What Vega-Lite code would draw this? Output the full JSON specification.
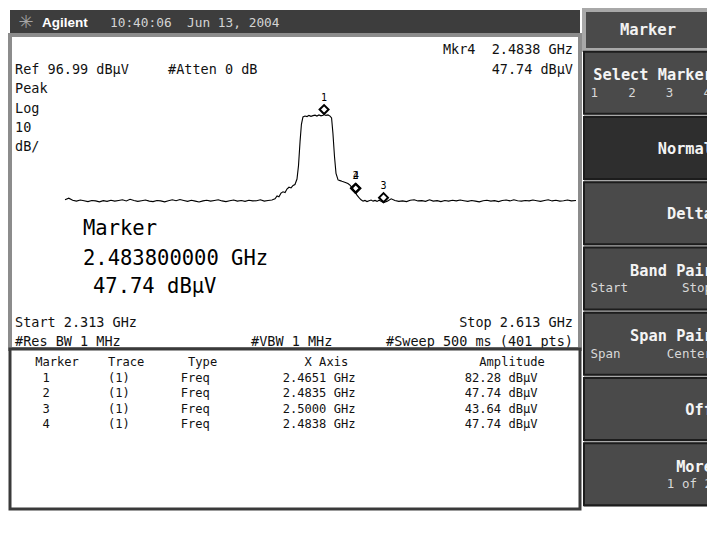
{
"$schema":"https://vega.github.io/schema/vega-lite/v6.json",
"background":"white",
"padding":{"left":8,"top":8,"right":0,"bottom":0},
"spacing":0,
"config":{"view":{"stroke":null},"text":{"font":"DejaVu Sans Mono"}},
"datasets":{
"trace":[
{"freq_ghz":2.3130,"level_dbuv":44.9},{"freq_ghz":2.3152,"level_dbuv":45.6},{"freq_ghz":2.3175,"level_dbuv":44.7},{"freq_ghz":2.3197,"level_dbuv":44.3},{"freq_ghz":2.3220,"level_dbuv":44.8},{"freq_ghz":2.3242,"level_dbuv":44.5},{"freq_ghz":2.3265,"level_dbuv":44.1},{"freq_ghz":2.3287,"level_dbuv":44.6},{"freq_ghz":2.3310,"level_dbuv":44.4},{"freq_ghz":2.3332,"level_dbuv":44.0},{"freq_ghz":2.3355,"level_dbuv":44.5},{"freq_ghz":2.3377,"level_dbuv":44.2},{"freq_ghz":2.3400,"level_dbuv":44.7},{"freq_ghz":2.3422,"level_dbuv":44.3},{"freq_ghz":2.3445,"level_dbuv":44.6},{"freq_ghz":2.3467,"level_dbuv":44.9},{"freq_ghz":2.3490,"level_dbuv":44.4},{"freq_ghz":2.3512,"level_dbuv":45.1},{"freq_ghz":2.3535,"level_dbuv":44.6},{"freq_ghz":2.3557,"level_dbuv":44.2},{"freq_ghz":2.3580,"level_dbuv":44.5},{"freq_ghz":2.3602,"level_dbuv":44.8},{"freq_ghz":2.3625,"level_dbuv":44.3},{"freq_ghz":2.3647,"level_dbuv":44.1},{"freq_ghz":2.3670,"level_dbuv":44.6},{"freq_ghz":2.3692,"level_dbuv":44.4},{"freq_ghz":2.3715,"level_dbuv":44.0},{"freq_ghz":2.3737,"level_dbuv":44.5},{"freq_ghz":2.3760,"level_dbuv":44.9},{"freq_ghz":2.3782,"level_dbuv":44.5},{"freq_ghz":2.3805,"level_dbuv":45.0},{"freq_ghz":2.3827,"level_dbuv":44.6},{"freq_ghz":2.3850,"level_dbuv":44.2},{"freq_ghz":2.3872,"level_dbuv":44.7},{"freq_ghz":2.3895,"level_dbuv":44.3},{"freq_ghz":2.3917,"level_dbuv":43.9},{"freq_ghz":2.3940,"level_dbuv":44.4},{"freq_ghz":2.3962,"level_dbuv":44.7},{"freq_ghz":2.3985,"level_dbuv":44.3},{"freq_ghz":2.4007,"level_dbuv":44.6},{"freq_ghz":2.4030,"level_dbuv":44.9},{"freq_ghz":2.4052,"level_dbuv":44.4},{"freq_ghz":2.4075,"level_dbuv":44.1},{"freq_ghz":2.4097,"level_dbuv":44.5},{"freq_ghz":2.4120,"level_dbuv":44.8},{"freq_ghz":2.4142,"level_dbuv":44.3},{"freq_ghz":2.4165,"level_dbuv":44.6},{"freq_ghz":2.4187,"level_dbuv":44.2},{"freq_ghz":2.4210,"level_dbuv":44.7},{"freq_ghz":2.4232,"level_dbuv":44.4},{"freq_ghz":2.4255,"level_dbuv":44.5},{"freq_ghz":2.4277,"level_dbuv":44.9},{"freq_ghz":2.4300,"level_dbuv":44.3},{"freq_ghz":2.4322,"level_dbuv":44.6},{"freq_ghz":2.4345,"level_dbuv":44.8},
{"freq_ghz":2.4363,"level_dbuv":45.3},{"freq_ghz":2.4375,"level_dbuv":46.6},{"freq_ghz":2.4386,"level_dbuv":46.2},{"freq_ghz":2.4398,"level_dbuv":47.8},{"freq_ghz":2.4410,"level_dbuv":48.4},{"freq_ghz":2.4422,"level_dbuv":48.1},{"freq_ghz":2.4433,"level_dbuv":49.6},{"freq_ghz":2.4445,"level_dbuv":50.4},{"freq_ghz":2.4457,"level_dbuv":50.1},{"freq_ghz":2.4469,"level_dbuv":51.2},{"freq_ghz":2.4480,"level_dbuv":51.6},{"freq_ghz":2.4492,"level_dbuv":54.0},{"freq_ghz":2.4501,"level_dbuv":60.0},{"freq_ghz":2.4510,"level_dbuv":70.5},{"freq_ghz":2.4518,"level_dbuv":78.0},{"freq_ghz":2.4527,"level_dbuv":81.2},{"freq_ghz":2.4539,"level_dbuv":81.6},{"freq_ghz":2.4551,"level_dbuv":81.4},{"freq_ghz":2.4562,"level_dbuv":81.9},{"freq_ghz":2.4574,"level_dbuv":81.5},{"freq_ghz":2.4586,"level_dbuv":81.8},{"freq_ghz":2.4598,"level_dbuv":82.0},{"freq_ghz":2.4609,"level_dbuv":81.6},{"freq_ghz":2.4621,"level_dbuv":82.1},{"freq_ghz":2.4633,"level_dbuv":81.7},{"freq_ghz":2.4645,"level_dbuv":82.0},{"freq_ghz":2.4651,"level_dbuv":82.28},{"freq_ghz":2.4662,"level_dbuv":81.9},{"freq_ghz":2.4674,"level_dbuv":82.1},{"freq_ghz":2.4686,"level_dbuv":81.6},{"freq_ghz":2.4695,"level_dbuv":80.8},{"freq_ghz":2.4703,"level_dbuv":74.0},{"freq_ghz":2.4712,"level_dbuv":64.0},{"freq_ghz":2.4721,"level_dbuv":56.5},{"freq_ghz":2.4733,"level_dbuv":53.6},{"freq_ghz":2.4745,"level_dbuv":53.3},{"freq_ghz":2.4756,"level_dbuv":53.0},{"freq_ghz":2.4768,"level_dbuv":52.7},{"freq_ghz":2.4780,"level_dbuv":52.4},{"freq_ghz":2.4791,"level_dbuv":52.0},{"freq_ghz":2.4803,"level_dbuv":51.3},{"freq_ghz":2.4815,"level_dbuv":50.2},{"freq_ghz":2.4827,"level_dbuv":48.8},{"freq_ghz":2.4835,"level_dbuv":47.74},{"freq_ghz":2.4838,"level_dbuv":47.74},{"freq_ghz":2.4844,"level_dbuv":46.9},{"freq_ghz":2.4856,"level_dbuv":45.8},{"freq_ghz":2.4868,"level_dbuv":44.9},{"freq_ghz":2.4880,"level_dbuv":44.3},{"freq_ghz":2.4891,"level_dbuv":44.6},{"freq_ghz":2.4903,"level_dbuv":44.1},{"freq_ghz":2.4915,"level_dbuv":44.5},{"freq_ghz":2.4927,"level_dbuv":44.8},{"freq_ghz":2.4939,"level_dbuv":44.3},{"freq_ghz":2.4950,"level_dbuv":44.6},{"freq_ghz":2.4962,"level_dbuv":44.2},{"freq_ghz":2.4974,"level_dbuv":44.7},{"freq_ghz":2.4986,"level_dbuv":44.2},{"freq_ghz":2.5000,"level_dbuv":43.64},
{"freq_ghz":2.5022,"level_dbuv":44.3},{"freq_ghz":2.5045,"level_dbuv":45.3},{"freq_ghz":2.5067,"level_dbuv":44.6},{"freq_ghz":2.5090,"level_dbuv":44.2},{"freq_ghz":2.5112,"level_dbuv":44.4},{"freq_ghz":2.5135,"level_dbuv":44.1},{"freq_ghz":2.5157,"level_dbuv":44.7},{"freq_ghz":2.5180,"level_dbuv":44.9},{"freq_ghz":2.5202,"level_dbuv":44.4},{"freq_ghz":2.5225,"level_dbuv":44.5},{"freq_ghz":2.5247,"level_dbuv":44.2},{"freq_ghz":2.5270,"level_dbuv":44.9},{"freq_ghz":2.5292,"level_dbuv":44.3},{"freq_ghz":2.5315,"level_dbuv":44.5},{"freq_ghz":2.5337,"level_dbuv":44.1},{"freq_ghz":2.5360,"level_dbuv":44.6},{"freq_ghz":2.5382,"level_dbuv":44.3},{"freq_ghz":2.5405,"level_dbuv":44.7},{"freq_ghz":2.5427,"level_dbuv":44.4},{"freq_ghz":2.5450,"level_dbuv":44.8},{"freq_ghz":2.5472,"level_dbuv":44.5},{"freq_ghz":2.5495,"level_dbuv":44.2},{"freq_ghz":2.5517,"level_dbuv":44.6},{"freq_ghz":2.5540,"level_dbuv":44.3},{"freq_ghz":2.5562,"level_dbuv":44.0},{"freq_ghz":2.5585,"level_dbuv":44.5},{"freq_ghz":2.5607,"level_dbuv":44.7},{"freq_ghz":2.5630,"level_dbuv":44.3},{"freq_ghz":2.5652,"level_dbuv":44.5},{"freq_ghz":2.5675,"level_dbuv":44.1},{"freq_ghz":2.5697,"level_dbuv":44.6},{"freq_ghz":2.5720,"level_dbuv":44.8},{"freq_ghz":2.5742,"level_dbuv":44.4},{"freq_ghz":2.5765,"level_dbuv":44.9},{"freq_ghz":2.5787,"level_dbuv":44.5},{"freq_ghz":2.5810,"level_dbuv":44.3},{"freq_ghz":2.5832,"level_dbuv":44.6},{"freq_ghz":2.5855,"level_dbuv":44.4},{"freq_ghz":2.5877,"level_dbuv":44.8},{"freq_ghz":2.5900,"level_dbuv":44.5},{"freq_ghz":2.5922,"level_dbuv":44.2},{"freq_ghz":2.5945,"level_dbuv":44.6},{"freq_ghz":2.5967,"level_dbuv":44.9},{"freq_ghz":2.5990,"level_dbuv":44.4},{"freq_ghz":2.6012,"level_dbuv":44.7},{"freq_ghz":2.6035,"level_dbuv":44.3},{"freq_ghz":2.6057,"level_dbuv":44.5},{"freq_ghz":2.6080,"level_dbuv":44.8},{"freq_ghz":2.6102,"level_dbuv":44.4},{"freq_ghz":2.6130,"level_dbuv":44.6}
],
"markers":[
{"marker":"1","freq_ghz":2.4651,"level_dbuv":82.28},
{"marker":"2","freq_ghz":2.4835,"level_dbuv":47.74},
{"marker":"3","freq_ghz":2.5000,"level_dbuv":43.64},
{"marker":"4","freq_ghz":2.4838,"level_dbuv":47.74}
],
"grid_freq":[{"freq_ghz":2.313},{"freq_ghz":2.343},{"freq_ghz":2.373},{"freq_ghz":2.403},{"freq_ghz":2.433},{"freq_ghz":2.463},{"freq_ghz":2.493},{"freq_ghz":2.523},{"freq_ghz":2.553},{"freq_ghz":2.583},{"freq_ghz":2.613}],
"grid_level":[{"level_dbuv":-3.01},{"level_dbuv":6.99},{"level_dbuv":16.99},{"level_dbuv":26.99},{"level_dbuv":36.99},{"level_dbuv":46.99},{"level_dbuv":56.99},{"level_dbuv":66.99},{"level_dbuv":76.99},{"level_dbuv":86.99},{"level_dbuv":96.99}],
"status_left":[
{"label":"Ref 96.99 dBµV","freq_ghz":2.283646,"level_dbuv":101.81},
{"label":"#Atten 0 dB","freq_ghz":2.37347,"level_dbuv":101.81},
{"label":"Peak","freq_ghz":2.283646,"level_dbuv":93.48},
{"label":"Log","freq_ghz":2.283646,"level_dbuv":84.71},
{"label":"10","freq_ghz":2.283646,"level_dbuv":76.38},
{"label":"dB/","freq_ghz":2.283646,"level_dbuv":68.04},
{"label":"Start 2.313 GHz","freq_ghz":2.283646,"level_dbuv":-9.15},
{"label":"#Res BW 1 MHz","freq_ghz":2.283646,"level_dbuv":-17.48},
{"label":"#VBW 1 MHz","freq_ghz":2.422198,"level_dbuv":-17.48}
],
"status_right":[
{"label":"Mkr4\u00a0\u00a02.4838 GHz","freq_ghz":2.61124,"level_dbuv":110.59},
{"label":"47.74 dBµV","freq_ghz":2.61124,"level_dbuv":101.81},
{"label":"Stop 2.613 GHz","freq_ghz":2.61124,"level_dbuv":-9.15},
{"label":"#Sweep 500 ms (401 pts)","freq_ghz":2.61124,"level_dbuv":-17.48}
],
"readout":[
{"label":"Marker","freq_ghz":2.323568,"level_dbuv":32.08},
{"label":"2.483800000 GHz","freq_ghz":2.323568,"level_dbuv":18.92},
{"label":"47.74 dBµV","freq_ghz":2.329439,"level_dbuv":6.64}
],
"table_lines":[
{"line":"head","text":"Marker\u00a0\u00a0\u00a0\u00a0Trace\u00a0\u00a0\u00a0\u00a0\u00a0\u00a0Type\u00a0\u00a0\u00a0\u00a0\u00a0\u00a0\u00a0\u00a0\u00a0\u00a0\u00a0\u00a0X\u00a0Axis\u00a0\u00a0\u00a0\u00a0\u00a0\u00a0\u00a0\u00a0\u00a0\u00a0\u00a0\u00a0\u00a0\u00a0\u00a0\u00a0\u00a0\u00a0Amplitude"},
{"line":"1","text":"\u00a0\u00a01\u00a0\u00a0\u00a0\u00a0\u00a0\u00a0\u00a0\u00a0(1)\u00a0\u00a0\u00a0\u00a0\u00a0\u00a0\u00a0Freq\u00a0\u00a0\u00a0\u00a0\u00a0\u00a0\u00a0\u00a0\u00a0\u00a02.4651\u00a0GHz\u00a0\u00a0\u00a0\u00a0\u00a0\u00a0\u00a0\u00a0\u00a0\u00a0\u00a0\u00a0\u00a0\u00a0\u00a082.28\u00a0dBµV"},
{"line":"2","text":"\u00a0\u00a02\u00a0\u00a0\u00a0\u00a0\u00a0\u00a0\u00a0\u00a0(1)\u00a0\u00a0\u00a0\u00a0\u00a0\u00a0\u00a0Freq\u00a0\u00a0\u00a0\u00a0\u00a0\u00a0\u00a0\u00a0\u00a0\u00a02.4835\u00a0GHz\u00a0\u00a0\u00a0\u00a0\u00a0\u00a0\u00a0\u00a0\u00a0\u00a0\u00a0\u00a0\u00a0\u00a0\u00a047.74\u00a0dBµV"},
{"line":"3","text":"\u00a0\u00a03\u00a0\u00a0\u00a0\u00a0\u00a0\u00a0\u00a0\u00a0(1)\u00a0\u00a0\u00a0\u00a0\u00a0\u00a0\u00a0Freq\u00a0\u00a0\u00a0\u00a0\u00a0\u00a0\u00a0\u00a0\u00a0\u00a02.5000\u00a0GHz\u00a0\u00a0\u00a0\u00a0\u00a0\u00a0\u00a0\u00a0\u00a0\u00a0\u00a0\u00a0\u00a0\u00a0\u00a043.64\u00a0dBµV"},
{"line":"4","text":"\u00a0\u00a04\u00a0\u00a0\u00a0\u00a0\u00a0\u00a0\u00a0\u00a0(1)\u00a0\u00a0\u00a0\u00a0\u00a0\u00a0\u00a0Freq\u00a0\u00a0\u00a0\u00a0\u00a0\u00a0\u00a0\u00a0\u00a0\u00a02.4838\u00a0GHz\u00a0\u00a0\u00a0\u00a0\u00a0\u00a0\u00a0\u00a0\u00a0\u00a0\u00a0\u00a0\u00a0\u00a0\u00a047.74\u00a0dBµV"}
],
"softkeys":[
{"key":"select","label":"Select Marker","sub_left":"1\u00a0\u00a0\u00a0\u00a02\u00a0\u00a0\u00a0\u00a03\u00a0\u00a0\u00a0\u00a04","sub_right":"","state":"idle"},
{"key":"normal","label":"Normal","sub_left":"","sub_right":"","state":"active"},
{"key":"delta","label":"Delta","sub_left":"","sub_right":"","state":"idle"},
{"key":"band","label":"Band Pair","sub_left":"Start","sub_right":"Stop","state":"idle"},
{"key":"span","label":"Span Pair","sub_left":"Span","sub_right":"Center","state":"idle"},
{"key":"off","label":"Off","sub_left":"","sub_right":"","state":"idle"},
{"key":"more","label":"More","sub_left":"","sub_right":"1 of 2","state":"idle"}
],
"header":[{"part":"logo","text":"✳"},{"part":"brand","text":"Agilent"},{"part":"clock","text":"10:40:06\u00a0\u00a0Jun 13, 2004"}]
},
"hconcat":[
{"vconcat":[
 {"width":570,"height":25,"view":{"fill":"#3d3d3d","stroke":null},
  "data":{"name":"header"},
  "layer":[
   {"transform":[{"filter":"datum.part==='logo'"}],"mark":{"type":"text","align":"center","dx":-269,"fontSize":18,"font":"DejaVu Sans","color":"#a6a6a6"},"encoding":{"text":{"field":"text"}}},
   {"transform":[{"filter":"datum.part==='brand'"}],"mark":{"type":"text","align":"left","dx":-253,"fontSize":13.5,"font":"Liberation Sans","fontWeight":"bold","color":"#ffffff"},"encoding":{"text":{"field":"text"}}},
   {"transform":[{"filter":"datum.part==='clock'"}],"mark":{"type":"text","align":"left","dx":-185,"fontSize":12.8,"font":"DejaVu Sans Mono","color":"#d4d4d4"},"encoding":{"text":{"field":"text"}}}
  ]},
 {"width":570,"height":314,"view":{"fill":"white","stroke":"#8c8c8c","strokeWidth":4},
  "encoding":{
   "x":{"field":"freq_ghz","type":"quantitative","scale":{"domain":[2.28071,2.615348],"nice":false,"zero":false},"axis":null},
   "y":{"field":"level_dbuv","type":"quantitative","scale":{"domain":[-20.554,117.165],"nice":false,"zero":false},"axis":null}
  },
  "layer":[
   {"data":{"name":"grid_freq"},"mark":{"type":"rule","color":"#a9a9a9","strokeWidth":1},"encoding":{"y":{"datum":-3.01},"y2":{"datum":96.99}}},
   {"data":{"name":"grid_level"},"mark":{"type":"rule","color":"#a9a9a9","strokeWidth":1},"encoding":{"x":{"datum":2.313},"x2":{"datum":2.613}}},
   {"data":{"name":"trace"},"mark":{"type":"line","color":"#000000","strokeWidth":1.1},"encoding":{}},
   {"data":{"name":"markers"},"mark":{"type":"point","shape":"diamond","filled":false,"color":"#000000","strokeWidth":2,"size":80,"yOffset":-5,"opacity":1}},
   {"data":{"name":"markers"},"mark":{"type":"text","fontSize":10,"yOffset":-17,"color":"#000000"},"encoding":{"text":{"field":"marker"}}},
   {"data":{"name":"status_left"},"mark":{"type":"text","align":"left","fontSize":13.5,"color":"#111111"},"encoding":{"text":{"field":"label"}}},
   {"data":{"name":"status_right"},"mark":{"type":"text","align":"right","fontSize":13.5,"color":"#111111"},"encoding":{"text":{"field":"label"}}},
   {"data":{"name":"readout"},"mark":{"type":"text","align":"left","fontSize":20.5,"color":"#000000"},"encoding":{"text":{"field":"label"}}}
  ]},
 {"width":570,"height":160,"view":{"fill":"white","stroke":"#3a3a3a","strokeWidth":3},
  "data":{"name":"table_lines"},
  "mark":{"type":"text","align":"center","dx":-5,"fontSize":12.1,"font":"DejaVu Sans Mono","color":"#111111"},
  "encoding":{
   "y":{"field":"line","type":"ordinal","scale":{"type":"point","domain":["head","1","2","3","4"],"range":[13,75],"padding":0},"axis":null},
   "text":{"field":"text"}
  }}
 ],"spacing":0,"bounds":"flush"},
{"vconcat":[
 {"width":125,"height":40,"view":{"fill":"#4a4a4a","stroke":"#a8a8a8","strokeWidth":4},
  "data":{"values":[{"label":"Marker"}]},
  "mark":{"type":"text","dx":1.5,"fontSize":15.5,"fontWeight":"bold","font":"DejaVu Sans Mono","color":"#f2f2f2"},
  "encoding":{"text":{"field":"label"}}},
 {"width":125,"height":457,"view":{"fill":"#a8a8a8","stroke":null},
  "data":{"name":"softkeys"},
  "encoding":{"y":{"field":"key","type":"nominal","scale":{"type":"band","domain":["select","normal","delta","band","span","off","more"],"paddingInner":0.05,"paddingOuter":0.025},"axis":null}},
  "layer":[
   {"mark":{"type":"rect","stroke":"#1c1c1c","strokeWidth":2},"encoding":{"color":{"field":"state","type":"nominal","scale":{"domain":["idle","active"],"range":["#4a4a4a","#2e2e2e"]},"legend":null}}},
   {"transform":[{"filter":"datum.sub_left !== '' || datum.sub_right !== ''"}],"mark":{"type":"text","align":"right","dx":66.5,"fontSize":15.3,"fontWeight":"bold","font":"DejaVu Sans Mono","color":"#f4f4f4","clip":true},"encoding":{"y":{"field":"key","type":"nominal","bandPosition":0.38,"scale":{"type":"band","domain":["select","normal","delta","band","span","off","more"],"paddingInner":0.05,"paddingOuter":0.025},"axis":null},"text":{"field":"label"}}},
   {"transform":[{"filter":"datum.sub_left === '' && datum.sub_right === ''"}],"mark":{"type":"text","align":"right","dx":66.5,"fontSize":15.3,"fontWeight":"bold","font":"DejaVu Sans Mono","color":"#f4f4f4","clip":true},"encoding":{"y":{"field":"key","type":"nominal","bandPosition":0.51,"scale":{"type":"band","domain":["select","normal","delta","band","span","off","more"],"paddingInner":0.05,"paddingOuter":0.025},"axis":null},"text":{"field":"label"}}},
   {"mark":{"type":"text","align":"left","dx":-56,"fontSize":12.5,"font":"DejaVu Sans Mono","color":"#d8d8d8","clip":true},"encoding":{"y":{"field":"key","type":"nominal","bandPosition":0.66,"scale":{"type":"band","domain":["select","normal","delta","band","span","off","more"],"paddingInner":0.05,"paddingOuter":0.025},"axis":null},"text":{"field":"sub_left"}}},
   {"mark":{"type":"text","align":"right","dx":65.5,"fontSize":12.5,"font":"DejaVu Sans Mono","color":"#d8d8d8","clip":true},"encoding":{"y":{"field":"key","type":"nominal","bandPosition":0.66,"scale":{"type":"band","domain":["select","normal","delta","band","span","off","more"],"paddingInner":0.05,"paddingOuter":0.025},"axis":null},"text":{"field":"sub_right"}}}
  ]}
 ],"spacing":0,"bounds":"flush"}
]
}
